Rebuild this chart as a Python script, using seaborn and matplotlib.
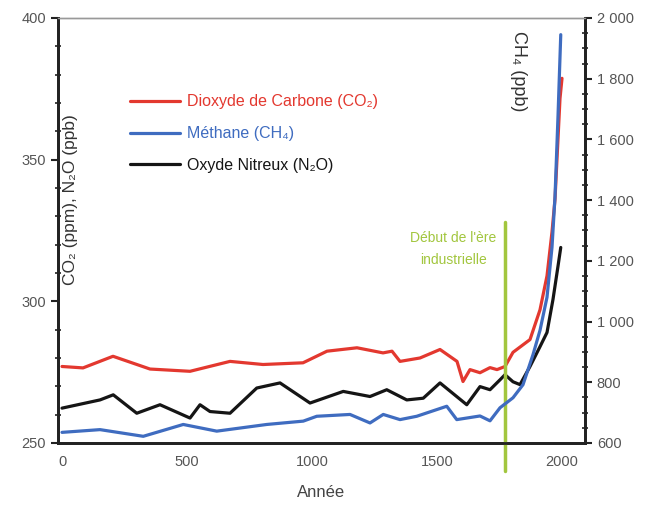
import numpy as np
import pandas as pd
import matplotlib
matplotlib.use("Agg")
import matplotlib.pyplot as plt
from matplotlib.ticker import MultipleLocator
import seaborn as sns

# Dioxyde de carbone (ppm) - axe de gauche
co2_years = [0, 84, 204, 352, 512, 672, 804, 964, 1060, 1180, 1284, 1320, 1352, 1432,
             1512, 1580, 1604, 1632, 1672, 1712, 1740, 1772, 1804, 1872, 1912, 1940,
             1960, 1972, 1992, 2000]
co2_vals = [277.0, 276.5, 280.6, 276.1, 275.3, 278.8, 277.7, 278.3, 282.4, 283.6, 281.8,
            282.4, 278.8, 280.0, 283.0, 278.8, 271.7, 275.9, 274.8, 276.6, 275.9, 277.0,
            282.0, 286.5, 297.0, 309.0, 324.5, 336.0, 371.6, 378.7]

# Méthane (ppb) - axe de droite
ch4_years = [0, 152, 325, 485, 619, 819, 965, 1019, 1152, 1232, 1285, 1352, 1419, 1539,
             1579, 1672, 1712, 1752, 1804, 1844, 1884, 1912, 1940, 1960, 1972, 1984, 1995]
ch4_vals = [635, 644, 622, 661, 639, 661, 672, 688, 694, 666, 694, 677, 688, 721,
            677, 689, 673, 716, 749, 792, 891, 971, 1080, 1245, 1411, 1676, 1945]

# Oxyde nitreux (ppb) - axe de gauche
n2o_years = [0, 152, 205, 299, 392, 512, 552, 592, 672, 779, 872, 992, 1125, 1232, 1299,
             1379, 1445, 1512, 1619, 1672, 1712, 1752, 1772, 1804, 1832, 1872, 1912, 1940,
             1964, 1984, 1995]
n2o_vals = [262.3, 265.2, 267.0, 260.5, 263.5, 258.8, 263.5, 261.1, 260.5, 269.4, 271.2,
            264.1, 268.2, 266.4, 268.8, 265.2, 265.8, 271.2, 263.5, 269.9, 268.8, 272.3,
            274.1, 271.6, 270.6, 277.0, 284.0, 289.0, 300.7, 312.4, 319.0]

left_ticks = [250, 300, 350, 400]
right_ticks = [600, 800, 1000, 1200, 1400, 1600, 1800, 2000]
right_ticklabels = ["600", "800", "1 000", "1 200", "1 400", "1 600", "1 800", "2 000"]
x_ticks = [0, 500, 1000, 1500, 2000]
industrial_year = 1770

sns.set_style("white")
plt.rcParams["font.family"] = ["Liberation Sans", "DejaVu Sans"]

red = "#e3382f"
blue = "#3f6cc0"
black = "#151515"
green = "#a2c63e"
grey = "#555555"

fig = plt.figure(figsize=(6.54, 5.05), dpi=100)
ax = fig.add_axes([0.0887, 0.1228, 0.8058, 0.8416])
ax2 = ax.twinx()

co2 = pd.DataFrame({"annee": co2_years, "val": co2_vals})
ch4 = pd.DataFrame({"annee": ch4_years, "val": ch4_vals})
n2o = pd.DataFrame({"annee": n2o_years, "val": n2o_vals})

sns.lineplot(data=co2, x="annee", y="val", ax=ax, color=red, lw=2.3,
             label="Dioxyde de Carbone (CO\u2082)")
sns.lineplot(data=n2o, x="annee", y="val", ax=ax, color=black, lw=2.3,
             label="Oxyde Nitreux (N\u2082O)")
sns.lineplot(data=ch4, x="annee", y="val", ax=ax2, color=blue, lw=2.3, legend=False)

ax.set_xlim(-16, 2092)
ax.set_ylim(250, 400)
ax2.set_ylim(600, 2000)

# ligne verte : début de l'ère industrielle
ax.axvline(industrial_year, ymin=-0.065, ymax=0.52, color=green, lw=2.5, clip_on=False, zorder=5)
ax.text(1564, 318.5, "Début de l'ère\nindustrielle", color=green, fontsize=10,
        ha="center", va="center", linespacing=1.75)

# légende
handles, labels = ax.get_legend_handles_labels()
h_ch4 = plt.Line2D([], [], color=blue, lw=2.3)
handles = [handles[0], h_ch4, handles[1]]
labels = [labels[0], "Méthane (CH\u2084)", labels[1]]
leg = ax.legend(handles, labels, loc="upper left", bbox_to_anchor=(0.137, 0.82),
                frameon=False, fontsize=11.5, handlelength=3.1, handletextpad=0.45,
                labelspacing=1.05, borderaxespad=0, borderpad=0)
for txt, c in zip(leg.get_texts(), [red, blue, black]):
    txt.set_color(c)

# axes et graduations
ax.set_xticks(x_ticks)
ax.set_yticks(left_ticks)
ax.xaxis.set_minor_locator(MultipleLocator(100))
ax.yaxis.set_minor_locator(MultipleLocator(10))
ax2.set_yticks(right_ticks)
ax2.set_yticklabels(right_ticklabels)
ax2.yaxis.set_minor_locator(MultipleLocator(50))

ax.tick_params(axis="both", which="major", direction="out", length=5, width=1.5,
               colors="#222222", labelcolor=grey, labelsize=10.5)
ax.tick_params(axis="both", which="minor", direction="inout", length=4, width=1.2, colors="#222222")
ax2.tick_params(axis="y", which="major", direction="out", length=5, width=1.5,
                colors="#222222", labelcolor=grey, labelsize=10.5)
ax2.tick_params(axis="y", which="minor", direction="inout", length=4, width=1.2, colors="#222222")

for a in (ax, ax2):
    for side in ("left", "bottom", "right"):
        a.spines[side].set_linewidth(2)
        a.spines[side].set_color("#222222")
    a.spines["top"].set_linewidth(1)
    a.spines["top"].set_color("#999999")

ax.set_xlabel("Année", fontsize=12, color="#444444", labelpad=12)
ax.set_ylabel("CO\u2082 (ppm), N\u2082O (ppb)", fontsize=12.5, color="#333333")
ax.yaxis.set_label_coords(0.038, 0.572)
ax2.set_ylabel("CH\u2084 (ppb)", fontsize=13, color="#333333", rotation=270)
ax2.yaxis.set_label_coords(0.89, 0.875)

fig.savefig("out.png", dpi=100)
